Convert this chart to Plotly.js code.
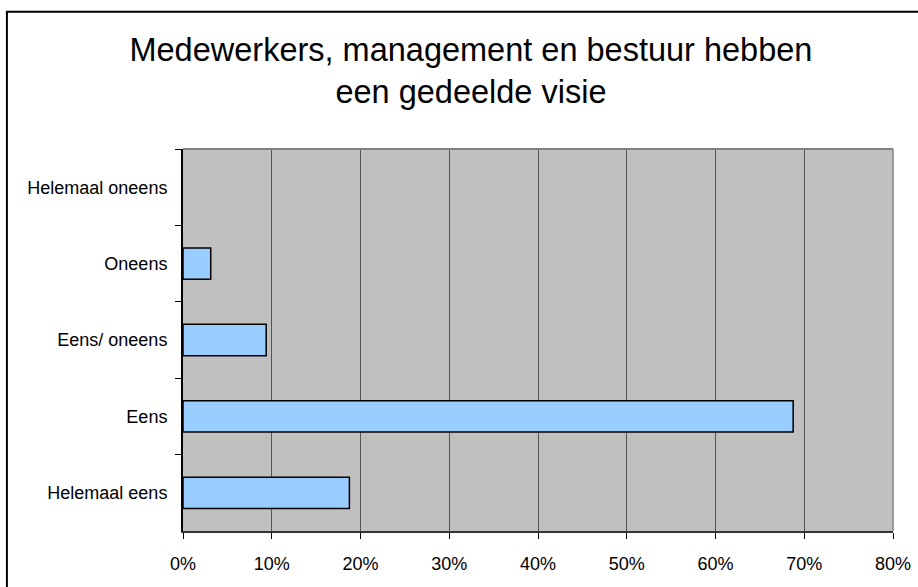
<!DOCTYPE html>
<html>
<head>
<meta charset="utf-8">
<script src="https://cdn.plot.ly/plotly-3.0.1.min.js"></script>
<style>html,body{margin:0;padding:0;background:#fff;}#chart{width:918px;height:587px;}</style>
</head>
<body>
<div id="chart"></div>
<script>
var categories = ["Helemaal oneens", "Oneens", "Eens/ oneens", "Eens", "Helemaal eens"];
var shares = [0, 0.03125, 0.09375, 0.6875, 0.1875];
var xTickValues = [0, 0.1, 0.2, 0.3, 0.4, 0.5, 0.6, 0.7, 0.8];
var xTickLabels = ["0%", "10%", "20%", "30%", "40%", "50%", "60%", "70%", "80%"];
var chartTitle = "Medewerkers, management en bestuur hebben<br>een gedeelde visie";

var font = '"Liberation Sans", Arial, sans-serif';

var trace = {
  type: 'bar',
  orientation: 'h',
  y: categories,
  x: shares,
  width: 0.41,
  marker: {
    color: '#99CCFF',
    line: {color: '#000000', width: shares.map(function (v) { return v > 0 ? 1.5 : 0; })}
  },
  hoverinfo: 'skip'
};

var layout = {
  width: 918, height: 587,
  margin: {l: 183, r: 25, t: 149, b: 56, pad: 0},
  paper_bgcolor: '#ffffff',
  plot_bgcolor: '#C0C0C0',
  showlegend: false,
  font: {family: font, size: 18, color: '#000'},
  title: {
    text: chartTitle,
    font: {family: font, size: 32.5, color: '#000'},
    xref: 'container', x: 0.513, xanchor: 'center',
    yref: 'container', y: 0.896, yanchor: 'middle'
  },
  xaxis: {
    range: [0, 0.8],
    tickvals: xTickValues,
    ticktext: xTickLabels,
    showgrid: true, gridcolor: '#555555', gridwidth: 1,
    zeroline: false,
    showline: true, linecolor: '#333333', linewidth: 2,
    ticks: 'outside', ticklen: 6, tickcolor: '#000', tickwidth: 1,
    ticklabelstandoff: 9,
    tickfont: {family: font, size: 18, color: '#000'},
    fixedrange: true
  },
  yaxis: {
    type: 'category',
    autorange: 'reversed',
    tickson: 'boundaries',
    showgrid: false,
    zeroline: false,
    showline: true, linecolor: '#000', linewidth: 2,
    ticks: 'outside', ticklen: 6, tickcolor: '#000', tickwidth: 1,
    ticklabelstandoff: 10,
    tickfont: {family: font, size: 18, color: '#000'},
    fixedrange: true
  },
  shapes: [
    {type: 'line', xref: 'paper', yref: 'paper', x0: 0, x1: 1, y0: 1, y1: 1, line: {color: '#808080', width: 2}},
    {type: 'line', xref: 'paper', yref: 'paper', x0: 1, x1: 1, y0: 0, y1: 1, line: {color: '#999999', width: 2}},
    {type: 'rect', xref: 'paper', yref: 'paper', x0: -0.248, x1: 1.2, y0: -0.4, y1: 1.359, line: {color: '#000', width: 2}, layer: 'below'}
  ]
};

Plotly.newPlot('chart', [trace], layout, {displayModeBar: false, staticPlot: true});
</script>
</body>
</html>
